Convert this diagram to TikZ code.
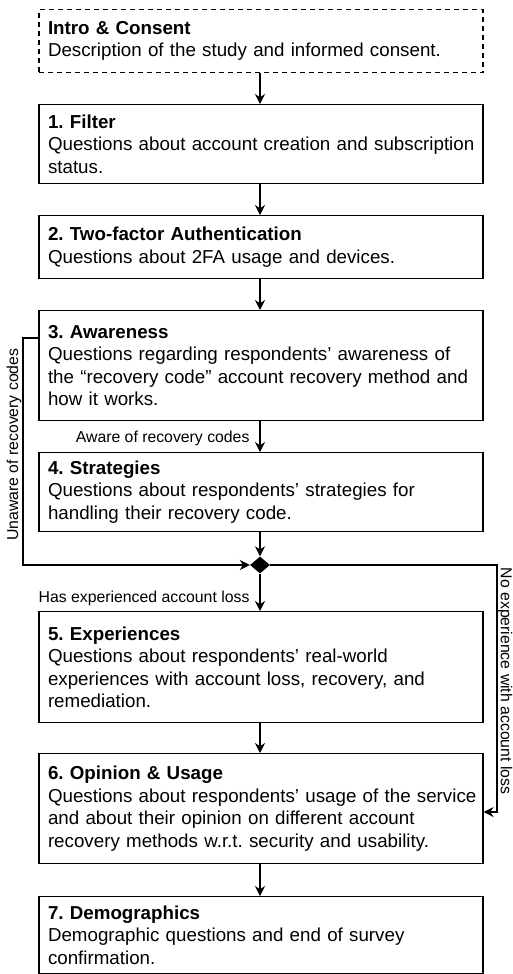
\documentclass[tikz,border=0pt]{standalone}
\usepackage{fontspec}
\setmainfont{Liberation Sans}
\usetikzlibrary{shapes.geometric,arrows.meta,calc}
\newcommand{\myboxfont}{\fontsize{18.75}{22.5}\selectfont\frenchspacing\hyphenpenalty=10000\exhyphenpenalty=10000\relax}
\newcommand{\mylblfont}{\fontsize{15.8}{18}\selectfont\frenchspacing}
\begin{document}
\begin{tikzpicture}[x=1pt,y=-1pt,
  box/.style={draw,line width=1.1pt,minimum width=444pt,text width=435pt,align=left,inner ysep=0pt,inner xsep=4.5pt,font=\myboxfont,anchor=north,execute at begin node={\leftskip=4.5pt\relax}},
  conn/.style={line width=1.1pt,-{Stealth[length=10pt,width=10pt]}},
  lbl/.style={font=\mylblfont,inner sep=1pt}]
\useasboundingbox (0,0) rectangle (512,974);
\node[box,dash pattern=on 5pt off 4pt,minimum height=63pt] (intro) at (261,9) {\textbf{Intro \& Consent}\\Description of the study and informed consent.};
\node[box,minimum height=79pt] (filter) at (261,104) {\textbf{1. Filter}\\Questions about account creation and subscription status.};
\node[box,minimum height=63pt] (tfa) at (261,215) {\textbf{2. Two-factor Authentication}\\Questions about 2FA usage and devices.};
\node[box,minimum height=110pt] (aw) at (261,310) {\textbf{3. Awareness}\\Questions regarding respondents’ awareness of the “recovery code” account recovery method and how it works.};
\node[box,minimum height=79pt] (st) at (261,452) {\textbf{4. Strategies}\\Questions about respondents’ strategies for handling their recovery code.};
\node[diamond,fill=black,minimum width=20pt,minimum height=17pt,inner sep=0pt] (dm) at (260,565) {};
\node[box,minimum height=111pt] (ex) at (261,611) {\textbf{5. Experiences}\\Questions about respondents’ real-world experiences with account loss, recovery, and remediation.};
\node[box,minimum height=110pt] (op) at (261,753) {\textbf{6. Opinion \& Usage}\\Questions about respondents’ usage of the service and about their opinion on different account recovery methods w.r.t. security and usability.};
\node[box,minimum height=77pt] (dg) at (261,896) {\textbf{7. Demographics}\\Demographic questions and end of survey confirmation.};
\coordinate (l1) at (23,338);
\coordinate (l2) at (23,565);
\coordinate (r1) at (497,565);
\coordinate (r2) at (497,812);
\draw[conn] (intro.south -| dm) -- (filter.north -| dm);
\draw[conn] (filter.south -| dm) -- (tfa.north -| dm);
\draw[conn] (tfa.south -| dm) -- (aw.north -| dm);
\draw[conn] (aw.south -| dm) -- node[lbl,anchor=east,pos=0.55,xshift=-9pt] (lawr) {Aware of recovery codes} (st.north -| dm);
\draw[conn] (st.south -| dm) -- (dm.north);
\draw[conn] (aw.west |- l1) -- (l1) -- node[lbl,rotate=90,anchor=south,pos=0.47] (lun) {Unaware of recovery codes} (l2) -- (dm.west);
\draw[conn] (dm.south) -- node[lbl,anchor=east,pos=0.65,xshift=-9pt] (lhas) {Has experienced account loss} (ex.north -| dm);
\draw[conn] (dm.east) -- (r1) -- node[lbl,rotate=-90,anchor=south,pos=0.47,inner sep=0pt] (lno) {No experience with account loss} (r2) -- (op.east |- r2);
\draw[conn] (ex.south -| dm) -- (op.north -| dm);
\draw[conn] (op.south -| dm) -- (dg.north -| dm);
\end{tikzpicture}
\end{document}
